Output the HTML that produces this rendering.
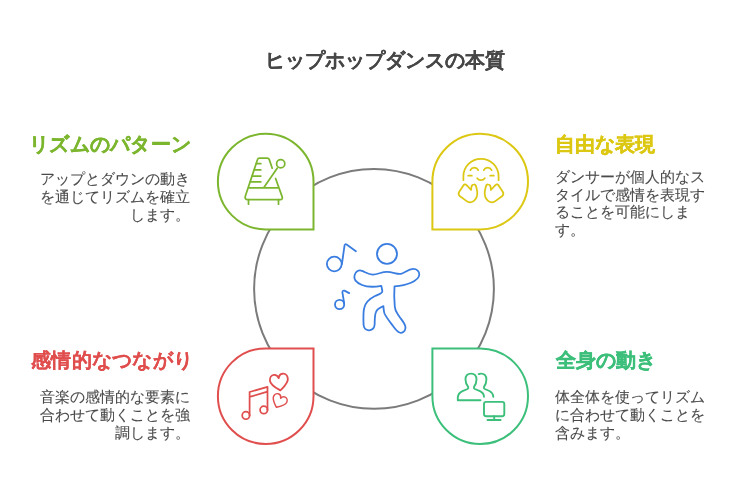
<!DOCTYPE html>
<html lang="ja">
<head>
<meta charset="utf-8">
<style>
html,body{margin:0;padding:0;background:#fff;}
body{width:734px;height:499px;position:relative;overflow:hidden;font-family:"Liberation Sans",sans-serif;}
svg{position:absolute;left:0;top:0;}
.t{position:absolute;white-space:nowrap;will-change:transform;}
.title{left:18px;width:734px;top:47px;font-size:20px;font-weight:bold;color:#474747;-webkit-text-stroke:0.15px currentColor;text-align:center;}
.h{font-size:20px;font-weight:bold;-webkit-text-stroke:0.4px currentColor;}
.b{font-size:15px;line-height:18px;color:#4a4a4a;-webkit-text-stroke:0.1px currentColor;}
.r{text-align:right;}
</style>
</head>
<body>
<svg width="734" height="499" viewBox="0 0 734 499">
  <circle cx="374" cy="288.9" r="119.9" fill="none" stroke="#7b7b7b" stroke-width="2"/>
  <!-- TL green -->
  <path d="M217.9 181.6 A47.8 47.8 0 0 1 313.5 181.6 L313.5 229.4 L265.7 229.4 A47.8 47.8 0 0 1 217.9 181.6 Z" fill="#fff" stroke="#7cb62f" stroke-width="2"/>
  <!-- TR yellow -->
  <path d="M432.4 181.6 A47.8 47.8 0 0 1 528 181.6 A47.8 47.8 0 0 1 480.2 229.4 L432.4 229.4 Z" fill="#fff" stroke="#dcc712" stroke-width="2"/>
  <!-- BL red -->
  <path d="M265.7 348.4 L313.5 348.4 L313.5 396.2 A47.8 47.8 0 0 1 217.9 396.2 A47.8 47.8 0 0 1 265.7 348.4 Z" fill="#fff" stroke="#e04e4e" stroke-width="2"/>
  <!-- BR green -->
  <path d="M432.4 348.4 L480.2 348.4 A47.8 47.8 0 0 1 528 396.2 A47.8 47.8 0 0 1 432.4 396.2 Z" fill="#fff" stroke="#3cbf7a" stroke-width="2"/>
  <!-- metronome -->
  <g fill="none" stroke="#7cb62f" stroke-width="1.75" stroke-linecap="round" stroke-linejoin="round">
    <path d="M272.2 168.2 L269.2 159.4 Q268.7 158 267.3 158 L259.3 158 Q258 158 257.6 159.3 L245.3 196.3 Q244.6 199.7 247.6 199.7 L280.3 199.7 Q283 199.7 282.1 196.6 L275.6 178.5"/>
    <path d="M256.4 163.7 H260.8 M254.3 169.9 H260.8 M252.3 176 H260.8 M250.3 181.9 H260.8 M248.9 187.8 H277.8 M248.5 199.7 V204.2 M278.5 199.7 V204.2 M264.2 187 L277.2 168.2"/>
    <circle cx="280.7" cy="163.7" r="4.1"/>
  </g>
  <!-- smiley -->
  <g fill="none" stroke="#dcc712" stroke-width="1.75" stroke-linecap="round" stroke-linejoin="round">
    <path d="M463.4 180.2 V176.4 A17.6 17.6 0 0 1 498.6 176.4 V180.2"/>
    <path d="M477.2 178.2 A4.7 4.7 0 0 0 484.8 178.2"/>
    <g id="halfL">
      <path d="M470.4 170.1 A4.4 4.4 0 0 1 478.2 170.1"/>
      <path d="M468.2 175.7 H471.8"/>
      <path d="M471.1 190 L466.6 185.2 Q464.9 183.5 463.4 185.4 L459.1 192 Q457.8 194.6 460 196.2 L467.4 201.6 Q470.5 203.4 473.6 201.1 Q477.6 198 477.3 192 L476.3 187 Q475.6 184.3 473.8 184.5 Q471.8 184.6 471.4 187 Z"/>
    </g>
    <use href="#halfL" transform="translate(962 0) scale(-1 1)"/>
  </g>
  <!-- notes & hearts -->
  <g fill="none" stroke="#e04e4e" stroke-width="1.75" stroke-linecap="round" stroke-linejoin="round">
    <path d="M249.6 415.4 V392 L267.5 386.8 V409.9 M249.6 396.9 L267.5 391.7"/>
    <circle cx="245.9" cy="415.4" r="3.7"/>
    <circle cx="263.8" cy="409.9" r="3.7"/>
    <path transform="translate(279.3 382.5) rotate(-8) scale(1.06)" d="M0 7.5 C-3.5 4.8 -8.5 1.5 -8.5 -2.8 C-8.5 -5.8 -6.4 -7.8 -4.1 -7.8 C-2.2 -7.8 -0.7 -6.6 0 -4.2 C0.7 -6.6 2.2 -7.8 4.1 -7.8 C6.4 -7.8 8.5 -5.8 8.5 -2.8 C8.5 1.5 3.5 4.8 0 7.5 Z"/>
    <path transform="translate(279.1 401.5) rotate(26) scale(0.85)" d="M0 7.5 C-3.5 4.8 -8.5 1.5 -8.5 -2.8 C-8.5 -5.8 -6.4 -7.8 -4.1 -7.8 C-2.2 -7.8 -0.7 -6.6 0 -4.2 C0.7 -6.6 2.2 -7.8 4.1 -7.8 C6.4 -7.8 8.5 -5.8 8.5 -2.8 C8.5 1.5 3.5 4.8 0 7.5 Z"/>
  </g>
  <!-- people & monitor -->
  <g fill="none" stroke="#3cbf7a" stroke-width="1.9" stroke-linecap="round" stroke-linejoin="round">
    <path d="M480.5 400.3 H457.8 V397.5 Q458.2 393 462.5 391.2 L467.5 389 Q468.6 388.3 468.2 386.9 Q465.5 383.8 465.5 379.6 Q465.5 373.6 471 373.6 Q476.5 373.6 476.5 379.6 Q476.5 383.8 474 386.9 Q473.6 388.3 474.8 389 L480 391.2 Q483.8 393 484 396.8"/>
    <path d="M478.7 374.1 Q479.8 373.6 481 373.6 Q486.4 373.6 486.4 379.6 Q486.4 383.8 484 386.9 Q483.6 388.3 484.8 389 L489.5 391 Q493 392.8 493.3 396.8"/>
    <rect x="484" y="401.9" width="20.3" height="14.4" rx="2.2"/>
    <path d="M494.2 416.3 V420 M487.5 420 H500.6"/>
  </g>
  <!-- dancer -->
  <g fill="none" stroke="#3a7de1" stroke-width="1.8" stroke-linecap="round" stroke-linejoin="round">
    <circle cx="387" cy="253.9" r="10"/>
    <circle cx="334.3" cy="264" r="7.4"/>
    <path d="M341.9 264 L344.6 245.2 Q345.2 243.6 346.6 244.6 L355.9 251.3"/>
    <circle cx="339.6" cy="304.5" r="4.6"/>
    <path d="M344.2 303.5 L342.4 292.3 Q342.4 290.2 344.4 290.6 L349.2 293.1"/>
    <path d="M381.3 285.8 C375 287 368 287.5 362 285 C356 282.5 353.5 279 354.5 275.5 C355.5 271 359 269.5 362 270.8 C366 272.5 369 274.8 373 274.6 C378 274.3 382 271.8 387 271.9 C393 272 397 274.5 401 273.8 C405 273.2 408 269 413 268.9 C417 268.9 419.5 271.5 419.3 274.8 C419 278.5 415 281 411 282.8 C406 285 400 286 394.5 286.3 C394 293 394.3 301 394.8 306.9 C395.2 312 397 313 400 317.5 C403 321.5 405.8 324.5 405.5 328 C405.2 331.5 402 333.5 399.5 332.5 C397 331.5 395.5 329.5 393 326 C390 322 386 317 384.5 313.5 C383.5 310.5 383.6 308 383.4 306.2 C380 307.5 377 309 375.8 312.5 C374.5 316 374.8 322 374.6 325 C374.3 328.5 371.5 330.5 368.8 330.3 C366 330 363.8 328 363.6 325 C363.4 320 363 313 364.2 308 C365.5 302 370 298.5 375 296 C378 294.5 382.3 293.5 382.3 291.5 C382.3 289.5 381.5 287 381.3 285.8 Z"/>
  </g>
</svg>
<div class="t title">ヒップホップダンスの本質</div>

<div class="t h r" style="right:543px;top:131px;letter-spacing:0.3px;color:#7cb62f">リズムのパターン</div>
<div class="t b r" style="right:544px;top:170px">アップとダウンの動き<br>を通じてリズムを確立<br>します。</div>

<div class="t h" style="left:555px;top:131px;color:#dcc712">自由な表現</div>
<div class="t b" style="left:555px;top:168px;line-height:17.6px">ダンサーが個人的なス<br>タイルで感情を表現す<br>ることを可能にしま<br>す。</div>

<div class="t h r" style="right:541px;top:347px;letter-spacing:0.3px;color:#e04e4e;-webkit-text-stroke:0.1px #e04e4e">感情的なつながり</div>
<div class="t b r" style="right:544px;top:387.5px">音楽の感情的な要素に<br>合わせて動くことを強<br>調します。</div>

<div class="t h" style="left:556px;top:347px;color:#3cbf7a">全身の動き</div>
<div class="t b" style="left:555px;top:387.5px">体全体を使ってリズム<br>に合わせて動くことを<br>含みます。</div>
</body>
</html>
